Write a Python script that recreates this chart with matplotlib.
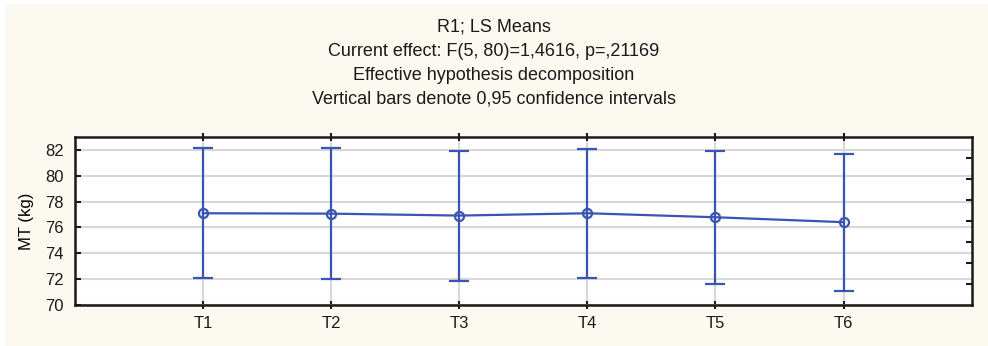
import matplotlib
matplotlib.use("Agg")
import matplotlib.pyplot as plt
import numpy as np

plt.rcParams['font.family'] = ['Liberation Sans', 'DejaVu Sans']

# LS means with 0.95 confidence limits per time point
categories = ["T1", "T2", "T3", "T4", "T5", "T6"]
means = [77.10, 77.07, 76.92, 77.10, 76.79, 76.41]
upper = [82.13, 82.13, 81.92, 82.07, 81.95, 81.67]
lower = [72.12, 72.02, 71.89, 72.12, 71.66, 71.05]
y_ticks = [70, 72, 74, 76, 78, 80, 82]

title_lines = [
    "R1; LS Means",
    "Current effect: F(5, 80)=1,4616, p=,21169",
    "Effective hypothesis decomposition",
    "Vertical bars denote 0,95 confidence intervals",
]

W, H = 988, 346
fig = plt.figure(figsize=(W / 100, H / 100), dpi=100)
fig.patch.set_facecolor("white")

# cream panel behind everything
panel = plt.Rectangle((6 / W, 0), 1 - 6 / W, 1 - 4 / H, transform=fig.transFigure,
                      facecolor="#FCF9F0", edgecolor="none", zorder=-10)
fig.patches.append(panel)

for i, line in enumerate(title_lines):
    fig.text(0.5, 1 - (27 + 24 * i) / H, line, ha="center", va="center",
             fontsize=13, color="#1a1a1a")

ax = fig.add_axes([74.7 / W, 1 - 305 / H, (971.7 - 74.7) / W, (305 - 137) / H])
ax.set_facecolor("white")

color = "#3A54B4"
x = np.arange(1, len(categories) + 1)
m = np.array(means)
yerr = np.vstack([m - np.array(lower), np.array(upper) - m])

ax.errorbar(x, m, yerr=yerr, color=color, lw=1.6, elinewidth=1.6, capsize=7,
            capthick=1.6, marker="o", ms=6.5, mfc="none", mec=color, mew=1.6, zorder=3)

ax.set_xlim(0, 7)
ax.set_ylim(70, 83)
ax.set_xticks(x)
ax.set_xticklabels(categories, fontsize=12)
ax.set_yticks(y_ticks)
ax.set_yticklabels([str(v) for v in y_ticks], fontsize=12)
ax.set_ylabel("MT (kg)", fontsize=12, labelpad=8)

ax.grid(True, color="#D8D8D8", lw=1.5, zorder=0)
ax.set_axisbelow(True)

for s in ax.spines.values():
    s.set_linewidth(1.8)
    s.set_color("#1a1a1a")

ax.tick_params(axis="y", direction="in", length=4, width=1.5, pad=8, colors="#1a1a1a")
ax.tick_params(axis="x", direction="inout", length=6, width=1.5, pad=5, colors="#1a1a1a",
               top=True)

# right-hand inner ticks dividing the range into eighths
ax2 = ax.twinx()
ax2.set_ylim(0, 8)
ax2.set_yticks(np.arange(1, 8))
ax2.tick_params(axis="y", direction="in", length=4, width=1.5, labelright=False,
                colors="#1a1a1a")
for s in ax2.spines.values():
    s.set_visible(False)

fig.savefig("out.png", dpi=100, facecolor=fig.get_facecolor())
